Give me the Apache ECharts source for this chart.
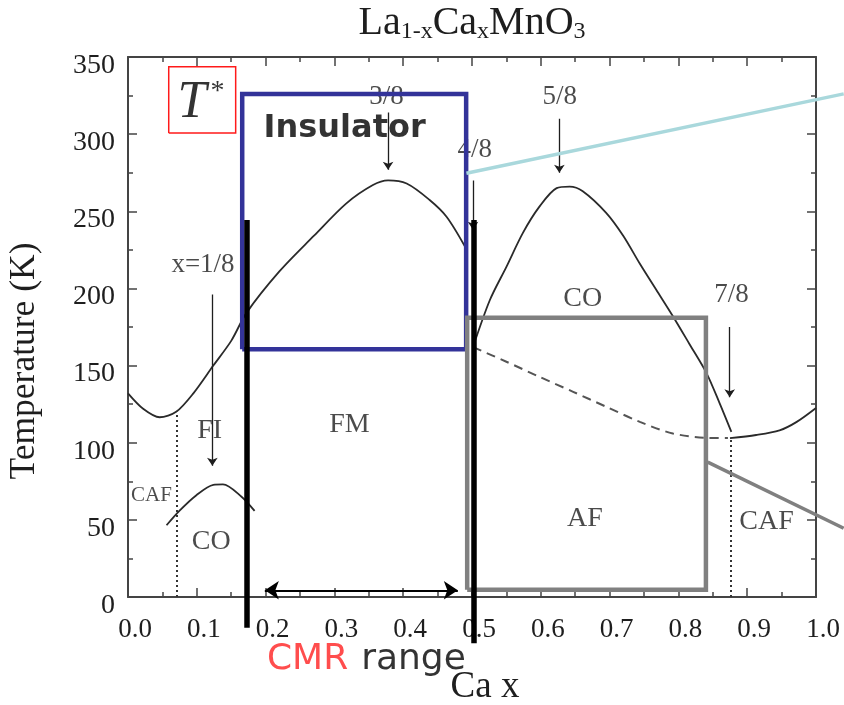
<!DOCTYPE html>
<html><head><meta charset="utf-8">
<script src="https://cdn.jsdelivr.net/npm/echarts@6/dist/echarts.min.js"></script>
<style>html,body{margin:0;padding:0;background:#fff}#c{width:844px;height:705px}</style>
</head><body><div id="c"></div>
<script>
// ---------- data (Ca fraction x, temperature K) ----------
const feBoundaryX = [0, 0.022, 0.046, 0.07, 0.095, 0.124, 0.15, 0.172, 0.22, 0.27, 0.317, 0.356, 0.378, 0.405, 0.438, 0.463, 0.49];
const feBoundaryT = [132, 122, 116.5, 120, 132, 150, 166, 184, 211, 234, 255, 267, 270, 268, 257.5, 246.5, 227];
const coDomeX = [0.5015, 0.526, 0.55, 0.574, 0.598, 0.623, 0.642, 0.661, 0.695, 0.72, 0.744, 0.768, 0.792, 0.816, 0.841, 0.86, 0.877];
const coDomeT = [162, 192.5, 214, 236, 253, 265, 266, 263, 249, 234, 216, 199, 182, 164, 145, 125.5, 107];
const cafRightX = [0.875, 0.913, 0.947, 0.972, 1.0];
const cafRightT = [103, 105, 108, 113.5, 122.5];
const afDashX = [0.5015, 0.55, 0.598, 0.647, 0.695, 0.744, 0.792, 0.84, 0.872];
const afDashT = [162, 152.5, 142.7, 133, 123.3, 113.5, 106, 103.2, 103];
const coSmallX = [0.056, 0.075, 0.0994, 0.124, 0.138, 0.165, 0.184];
const coSmallT = [46.5, 56, 66, 72.7, 73, 65, 55.8];
const dottedX = [0.0703, 0.876];
const dottedTopT = [120, 103];

const fracLabels = ['x=1/8', '3/8', '4/8', '5/8', '7/8'];
const fracLabelX = [0.109, 0.3756, 0.504, 0.6275, 0.877];
const fracLabelT = [215, 324.4, 289.8, 324.4, 195.7];
const arrowX = [0.1226, 0.378, 0.5015, 0.627, 0.8746];
const arrowFromT = [196, 314, 270, 310, 175];
const arrowToT = [85, 277, 238, 275, 129.5];

const phaseNames = ['FI', 'CO', 'FM', 'CO', 'AF', 'CAF'];
const phaseX = [0.1188, 0.121, 0.322, 0.661, 0.664, 0.928];
const phaseT = [108, 35.7, 112, 193.6, 50.9, 48.7];
const smallPhaseNames = ['CAF'];
const smallPhaseX = [0.034];
const smallPhaseT = [66];

const xTickMin = 0, xTickMax = 1, xTickStep = 0.1;
const yTickMin = 0, yTickMax = 350, yTickStep = 50;

// overlay annotations (data coordinates)
const insulatorBoxX = [0.166, 0.4915];
const insulatorBoxT = [160.5, 326];
const afBoxX = [0.493, 0.84];
const afBoxT = [4.7, 181];
const cmrBarX = [0.1725, 0.5025];
const cmrBarTopT = [244.4, 244.4];
const cmrBarBottomT = [-20, -30];
const cmrArrowX = [0.1989, 0.4794];
const cmrArrowT = 4.35;
const tStarBoxX = [0.0592, 0.1565];
const tStarBoxT = [300.8, 343.6];
const cyanLineX = [0.4919, 1.0403];
const cyanLineT = [274.7, 326.1];
const grayLineX = [0.8426, 1.0402];
const grayLineT = [87.4, 44.6];

// ---------- chart ----------
const zip = (xs, ys) => xs.map((x, i) => [x, ys[i]]);
const rect = (xs, ts) => [[xs[0], ts[0]], [xs[1], ts[0]], [xs[1], ts[1]], [xs[0], ts[1]], [xs[0], ts[0]]];
const serif = "'Liberation Serif', 'Times New Roman', serif";
const sans = "'DejaVu Sans', sans-serif";
const ink = '#1e1e1e';
const axisColor = '#444';

const chart = echarts.init(document.getElementById('c'), null, { renderer: 'canvas' });

const axisBase = {
  type: 'value',
  axisLine: { show: true, onZero: false, lineStyle: { color: axisColor, width: 2 } },
  axisTick: { show: true, inside: true, length: 9, lineStyle: { color: axisColor, width: 1.5 } },
  minorTick: { show: true, splitNumber: 2, length: 5, lineStyle: { color: axisColor, width: 1.5 } },
  splitLine: { show: false },
  minorSplitLine: { show: false }
};

const curve = (xs, ys, extra) => Object.assign({
  type: 'line', data: zip(xs, ys), smooth: 0.3, showSymbol: false, silent: true,
  lineStyle: { color: '#2a2a2a', width: 1.8 }, z: 3
}, extra || {});

const labelSeries = (names, xs, ts, size, extra) => Object.assign({
  type: 'scatter', symbolSize: 0, clip: false, silent: true, z: 6,
  data: names.map((n, i) => [xs[i], ts[i], n]),
  label: { show: true, position: 'inside', formatter: p => p.data[2],
    fontFamily: serif, fontSize: size, color: ink }
}, extra || {});

const option = {
  animation: false,
  backgroundColor: '#fff',
  grid: { left: 128, right: 28, top: 57, bottom: 108, containLabel: false, outerBoundsMode: 'none' },
  xAxis: [
    Object.assign({}, axisBase, {
      position: 'bottom', min: xTickMin, max: xTickMax, interval: xTickStep,
      axisLabel: { show: true, margin: 19, padding: [0, 0, 0, 14], fontFamily: serif, fontSize: 27, color: ink,
        formatter: v => v.toFixed(1) },
      name: 'Ca x', nameLocation: 'middle', nameGap: 72,
      nameTextStyle: { fontFamily: serif, fontSize: 37, color: ink, padding: [0, 0, 0, 26] }
    }),
    Object.assign({}, axisBase, {
      position: 'top', min: xTickMin, max: xTickMax, interval: xTickStep,
      axisLabel: { show: false },
      name: 'La{s|1-x}Ca{s|x}MnO{s|3}', nameLocation: 'middle', nameGap: 13,
      nameTextStyle: { fontFamily: serif, fontSize: 40, color: ink, lineHeight: 42, verticalAlign: 'bottom',
        rich: { s: { fontFamily: serif, fontSize: 24, color: ink, lineHeight: 24, verticalAlign: 'bottom' } } }
    })
  ],
  yAxis: [
    Object.assign({}, axisBase, {
      position: 'left', min: yTickMin, max: yTickMax, interval: yTickStep,
      axisLabel: { show: true, margin: 13, verticalAlign: 'top', lineHeight: 17, fontFamily: serif, fontSize: 28, color: ink },
      name: 'Temperature (K)', nameLocation: 'middle', nameGap: 85, nameRotate: 90,
      nameTextStyle: { fontFamily: serif, fontSize: 35.5, color: ink, padding: [0, 68, 0, 0] }
    }),
    Object.assign({}, axisBase, {
      position: 'right', min: yTickMin, max: yTickMax, interval: yTickStep,
      axisLabel: { show: false }
    })
  ],
  series: [
    curve(feBoundaryX, feBoundaryT),
    curve(coDomeX, coDomeT),
    curve(cafRightX, cafRightT),
    curve(coSmallX, coSmallT),
    curve(afDashX, afDashT, { lineStyle: { color: '#555', width: 2, type: [9, 6] } }),
    { type: 'lines', coordinateSystem: 'cartesian2d', silent: true, z: 3,
      data: dottedX.map((x, i) => ({ coords: [[x, 0], [x, dottedTopT[i]]] })),
      lineStyle: { color: '#333', width: 2, type: [2, 3], opacity: 1 } },
    { type: 'lines', coordinateSystem: 'cartesian2d', silent: true, z: 4,
      symbol: ['none', 'arrow'], symbolSize: 8,
      data: arrowX.map((x, i) => ({ coords: [[x, arrowFromT[i]], [x, arrowToT[i]]] })),
      lineStyle: { color: ink, width: 1.3, opacity: 1 } },
    labelSeries(fracLabels, fracLabelX, fracLabelT, 27),
    labelSeries(phaseNames, phaseX, phaseT, 28),
    labelSeries(smallPhaseNames, smallPhaseX, smallPhaseT, 21),
    // overlays
    { type: 'lines', coordinateSystem: 'cartesian2d', polyline: true, clip: false, silent: true, z: 7,
      data: [{ coords: rect(insulatorBoxX, insulatorBoxT) }],
      lineStyle: { color: '#333399', width: 4.5, opacity: 1, join: 'miter' } },
    { type: 'lines', coordinateSystem: 'cartesian2d', polyline: true, clip: false, silent: true, z: 8,
      data: [{ coords: rect(afBoxX, afBoxT) }],
      lineStyle: { color: '#808080', width: 4.5, opacity: 1, join: 'miter' } },
    { type: 'lines', coordinateSystem: 'cartesian2d', polyline: true, clip: false, silent: true, z: 7,
      data: [{ coords: rect(tStarBoxX, tStarBoxT) }],
      lineStyle: { color: '#ff1a1a', width: 1.5, opacity: 1 } },
    { type: 'lines', coordinateSystem: 'cartesian2d', clip: false, silent: true, z: 9,
      data: cmrBarX.map((x, i) => ({ coords: [[x, cmrBarTopT[i]], [x, cmrBarBottomT[i]]] })),
      lineStyle: { color: '#000', width: 5.5, opacity: 1 } },
    { type: 'lines', coordinateSystem: 'cartesian2d', clip: false, silent: true, z: 9,
      symbol: ['arrow', 'arrow'], symbolSize: 14,
      data: [{ coords: [[cmrArrowX[0], cmrArrowT], [cmrArrowX[1], cmrArrowT]] }],
      lineStyle: { color: '#000', width: 2, opacity: 1 } },
    { type: 'lines', coordinateSystem: 'cartesian2d', clip: false, silent: true, z: 10,
      data: [{ coords: zip(cyanLineX, cyanLineT) }],
      lineStyle: { color: '#a9d8dc', width: 3.5, opacity: 1 } },
    { type: 'lines', coordinateSystem: 'cartesian2d', clip: false, silent: true, z: 10,
      data: [{ coords: zip(grayLineX, grayLineT) }],
      lineStyle: { color: '#808080', width: 3.5, opacity: 1 } },
    { type: 'scatter', symbolSize: 0, clip: false, silent: true, z: 11,
      data: [[0.3149, 303.4, 'Insulator']],
      label: { show: true, position: 'inside', formatter: p => p.data[2],
        fontFamily: sans, fontWeight: 'bold', fontSize: 32, color: '#000' } },
    { type: 'scatter', symbolSize: 0, clip: false, silent: true, z: 11,
      data: [[0.3465, -40.5, 'CMR range']],
      label: { show: true, position: 'inside', formatter: '{r|CMR}{k|range}',
        rich: { r: { fontFamily: sans, fontSize: 36, color: '#ff2020', padding: [0, 13, 0, 0] },
                k: { fontFamily: sans, fontSize: 36, color: '#000' } } } },
    { type: 'scatter', symbolSize: 0, clip: false, silent: true, z: 11,
      data: [[0.106, 320, 'T*']],
      label: { show: true, position: 'inside', formatter: '{t|T}{s|*}',
        rich: { t: { fontFamily: serif, fontStyle: 'italic', fontSize: 52, color: '#000' },
                s: { fontFamily: serif, fontSize: 28, color: '#000', verticalAlign: 'top', lineHeight: 28, padding: [0, 0, 0, 4] } } } }
  ]
};
chart.setOption(option);
</script>
</body></html>
